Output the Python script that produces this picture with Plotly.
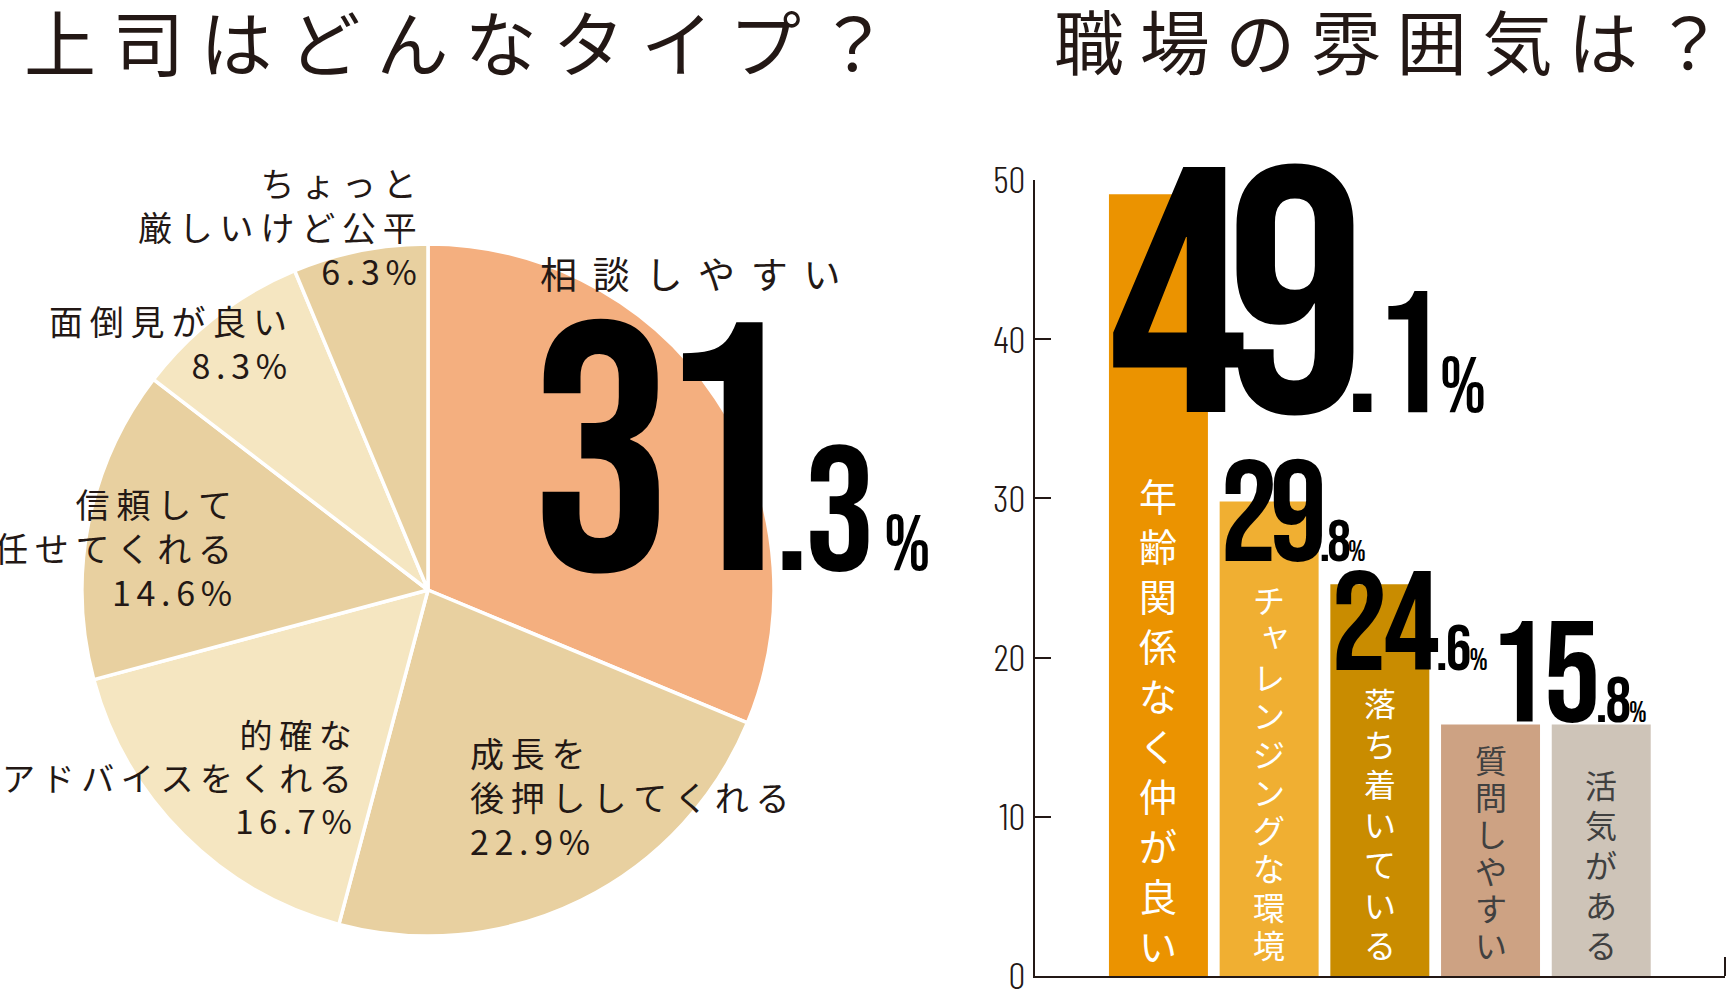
import plotly.graph_objects as go

# ---------------- data ----------------
pie_labels = ["相談しやすい", "成長を後押ししてくれる", "的確なアドバイスをくれる",
              "信頼して任せてくれる", "面倒見が良い", "ちょっと厳しいけど公平"]
pie_label_lines = [["相談しやすい"], ["成長を", "後押ししてくれる"], ["的確な", "アドバイスをくれる"],
                   ["信頼して", "任せてくれる"], ["面倒見が良い"], ["ちょっと", "厳しいけど公平"]]
pie_values = [31.3, 22.9, 16.7, 14.6, 8.3, 6.3]

bar_labels = ["年齢関係なく仲が良い", "チャレンジングな環境", "落ち着いている", "質問しやすい", "活気がある"]
bar_values = [49.1, 29.8, 24.6, 15.8, 15.8]
y_ticks = [0, 10, 20, 30, 40, 50]

title_left = "上司はどんなタイプ？"
title_right = "職場の雰囲気は？"

# ---------------- style ----------------
W, H = 1727, 999
INK = "#231815"
pie_colors = ["#F4AF7F", "#E8D0A0", "#F5E6C1", "#E8D0A0", "#F5E6C1", "#E8D0A0"]
bar_colors = ["#EB9300", "#F0AF32", "#C98C00", "#CDA283", "#CEC4B8"]
bar_text_colors = ["white", "white", "white", "#404040", "#404040"]
bar_text_sizes = [38, 32, 32, 32, 32]
bar_text_pitch = [49.9, 38.3, 40.3, 37.0, 40.0]   # px between vertical characters
BAR_TEXT_LAST = 32                                 # px from baseline to centre of last character
SMALL_KANA = set("ャュョッゃゅょっァィゥェォぁぃぅぇぉ")
JP = "Noto Sans CJK JP"
NUM = "Bebas Neue, Barlow Condensed, DejaVu Sans Condensed, sans-serif"
NARROW = "Barlow Condensed, DejaVu Sans Condensed, sans-serif"
DESC = 0.3  # descent of NUM font (em)


def px(x):
    return x / W


def py(y):
    return 1 - y / H


def spaced(s, sp="\u2009"):
    return sp.join(s)


def big_number(v, big, mid, small, gap="", ls_big=0, ls_last=0, ls_mid=0):
    s = f"{v:.1f}"
    ip, dp = s.split(".")
    return (f"<span style='font-size:{big}px;letter-spacing:{ls_big}px'>{ip[:-1]}</span>"
            f"<span style='font-size:{big}px;letter-spacing:{ls_last}px'>{ip[-1]}</span>"
            f"<span style='font-size:{mid}px;letter-spacing:{ls_mid}px'>.{dp}</span>"
            f"<span style='font-size:{small}px'>{gap}%</span>")


fig = go.Figure()

fig.add_trace(go.Pie(
    values=pie_values, labels=pie_labels, sort=False, direction="clockwise", rotation=0,
    marker=dict(colors=pie_colors, line=dict(color="white", width=3.5)),
    textinfo="none", hoverinfo="skip", showlegend=False,
    domain=dict(x=[px(82), px(774)], y=[py(936), py(244)]),
))

fig.add_trace(go.Bar(
    x=list(range(len(bar_values))), y=bar_values, width=0.894,
    marker=dict(color=bar_colors, line=dict(width=0)),
    hoverinfo="skip", showlegend=False,
))

ann = []
# titles
ann.append(dict(text=spaced(title_left, " "), x=px(22), y=py(40), xref="paper", yref="paper",
                xanchor="left", yanchor="middle", showarrow=False,
                font=dict(family=JP, size=72, color=INK)))
ann.append(dict(text=spaced(title_right, " "), x=px(1052), y=py(40), xref="paper", yref="paper",
                xanchor="left", yanchor="middle", showarrow=False,
                font=dict(family=JP, size=70, color=INK)))

# pie labels (slices 1..5)
pie_pos = {1: (468, 796, "left", 34), 2: (354, 777, "right", 33), 3: (234, 547, "right", 34),
           4: (289, 342, "right", 34), 5: (419, 226, "right", 34)}
for i, (x, y, side, fs) in pie_pos.items():
    lines = [spaced(l) for l in pie_label_lines[i]] + [spaced(f"{pie_values[i]}%", "\u2006")]
    ann.append(dict(text="<br>".join(lines), x=px(x), y=py(y), xref="paper", yref="paper",
                    xanchor=side, yanchor="middle", align=side, showarrow=False,
                    font=dict(family=JP, size=fs, color=INK)))

# main slice
ann.append(dict(text=spaced(pie_label_lines[0][0], " \u2009"), x=px(538), y=py(273), xref="paper", yref="paper",
                xanchor="left", yanchor="middle", showarrow=False,
                font=dict(family=JP, size=37, color=INK)))
ann.append(dict(text=big_number(pie_values[0], 354, 177, 79, " ", -18, -21, -4), x=px(529), y=py(572),
                xref="paper", yref="paper", xanchor="left", yanchor="bottom", yshift=-DESC * 354,
                showarrow=False, font=dict(family=NUM, size=100, color="black")))

# bar vertical labels, one character per annotation (vertical writing)
for i, lab in enumerate(bar_labels):
    n = len(lab)
    for k, ch in enumerate(lab):
        small = ch in SMALL_KANA
        ann.append(dict(text=ch, x=i, y=0, xref="x", yref="y", xanchor="center", yanchor="middle",
                        yshift=BAR_TEXT_LAST + (n - 1 - k) * bar_text_pitch[i] + (6 if small else 0),
                        xshift=6 if small else 0, showarrow=False,
                        font=dict(family=JP, size=bar_text_sizes[i], color=bar_text_colors[i])))

# bar big numbers: (big, mid, small, gap, ls big, ls last big digit, ls mid)
num_sizes = [(350, 173, 79, "", -22, -20, -4), (144, 59, 30, "", -8, -8, -3), (141, 64, 31, "", -4, -4, -2),
             (143, 64, 30, "", -3, -5, -2), None]
num_dx = [-0.475, -0.465, -0.46, -0.035, None]
num_dy = [13.8, 3.84, 5.5, 0.0, None]
for i, v in enumerate(bar_values):
    if num_sizes[i] is None:
        continue
    b, m, s, g, lb, ll, lm = num_sizes[i]
    ann.append(dict(text=big_number(v, b, m, s, g, lb, ll, lm), x=i + num_dx[i], y=v - num_dy[i],
                    xref="x", yref="y", xanchor="left", yanchor="bottom", yshift=-DESC * b, showarrow=False,
                    font=dict(family=NUM, size=100, color="black")))

fig.update_layout(
    width=W, height=H, margin=dict(l=0, r=0, t=0, b=0, autoexpand=False),
    paper_bgcolor="white", plot_bgcolor="rgba(0,0,0,0)",
    bargap=0.1,
    xaxis=dict(domain=[px(1035), px(1725)], range=[-1.115, 5.118], showline=True, linecolor=INK,
               linewidth=2, showticklabels=False, ticks="", showgrid=False, zeroline=False, fixedrange=True,
               automargin=False),
    yaxis=dict(domain=[py(976), py(180)], range=[0, 50], tickvals=y_ticks, ticks="inside", ticklen=16,
               tickwidth=2, tickcolor=INK, showline=True, linecolor=INK, linewidth=2, showgrid=False,
               zeroline=False, fixedrange=True, automargin=False,
               tickfont=dict(family=NARROW, size=38, color=INK, weight=300)),
    annotations=ann,
    shapes=[dict(type="line", xref="x domain", yref="y", x0=1, x1=1, y0=0, y1=1.2,
                 line=dict(color=INK, width=2))],
)

fig.write_html("out.html", config={"displayModeBar": False},
               post_script="document.body.style.margin='0';document.body.style.overflow='hidden';")
